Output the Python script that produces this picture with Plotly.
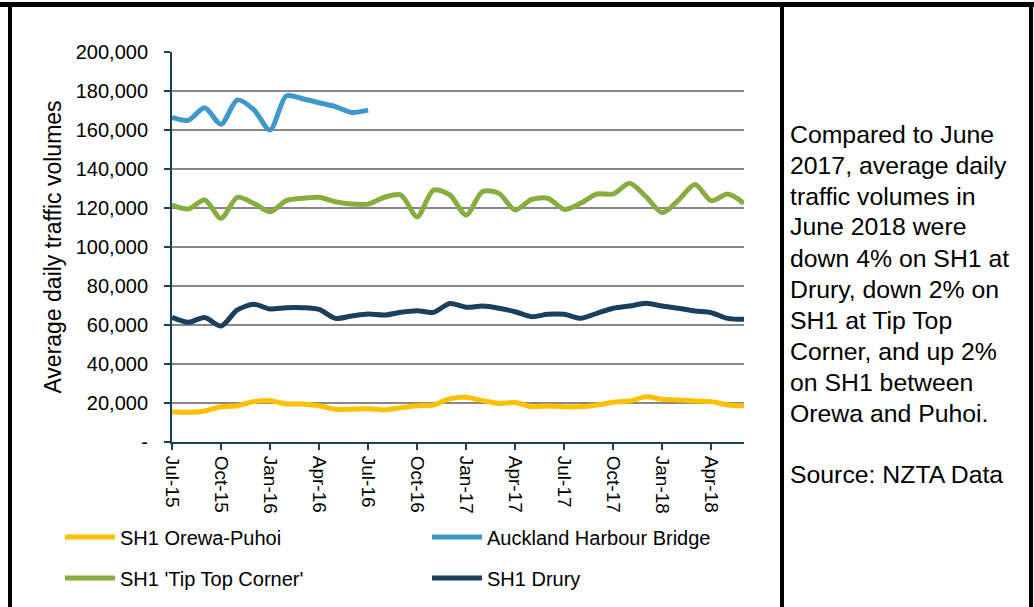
import plotly.graph_objects as go

# ---------------- data ----------------
months = ["Jul-15", "Aug-15", "Sep-15", "Oct-15", "Nov-15", "Dec-15",
          "Jan-16", "Feb-16", "Mar-16", "Apr-16", "May-16", "Jun-16",
          "Jul-16", "Aug-16", "Sep-16", "Oct-16", "Nov-16", "Dec-16",
          "Jan-17", "Feb-17", "Mar-17", "Apr-17", "May-17", "Jun-17",
          "Jul-17", "Aug-17", "Sep-17", "Oct-17", "Nov-17", "Dec-17",
          "Jan-18", "Feb-18", "Mar-18", "Apr-18", "May-18", "Jun-18"]

x_tick_labels = ["Jul-15", "Oct-15", "Jan-16", "Apr-16", "Jul-16", "Oct-16",
                 "Jan-17", "Apr-17", "Jul-17", "Oct-17", "Jan-18", "Apr-18"]

y_tick_values = [0, 20000, 40000, 60000, 80000, 100000, 120000, 140000, 160000, 180000, 200000]
y_tick_labels = ["-", "20,000", "40,000", "60,000", "80,000", "100,000", "120,000",
                 "140,000", "160,000", "180,000", "200,000"]

orewa_puhoi = [15500, 15200, 15900, 18100, 18600, 20700, 21200, 19500, 19500, 18600,
               16800, 16800, 17100, 16400, 17600, 18600, 19000, 22200, 22900, 21200,
               19800, 20200, 18100, 18500, 18100, 18100, 19000, 20400, 21000, 23200,
               21900, 21500, 21000, 20700, 19000, 18600]

harbour_bridge = [166500, 165000, 171400, 162900, 175400, 170500, 160000, 177500, 176000,
                  174000, 172000, 169000, 170200]

tip_top_corner = [121500, 119500, 124100, 114700, 125500, 122400, 118100, 123800, 125000,
                  125500, 123200, 122000, 122000, 125500, 126700, 115500, 129200, 126700,
                  116400, 128500, 127500, 119000, 124400, 125000, 119300, 122400, 127200,
                  127200, 132700, 125800, 117600, 124100, 132100, 123700, 127200, 122400]

drury = [63900, 61400, 63900, 59500, 67700, 70600, 68200, 68900, 68900, 68000,
         63400, 64600, 65600, 65100, 66500, 67300, 66500, 71000, 69100, 69700,
         68600, 66800, 64300, 65500, 65500, 63400, 66000, 68600, 69700, 71100,
         69700, 68600, 67200, 66300, 63400, 62900]

series_names = ["SH1 Orewa-Puhoi", "Auckland Harbour Bridge", "SH1 'Tip Top Corner'", "SH1 Drury"]
series_colors = ["#FFC000", "#3F97CA", "#88AC3F", "#1B3F5E"]

side_text = ["Compared to June", "2017, average daily", "traffic volumes in",
             "June 2018 were", "down 4% on SH1 at", "Drury, down 2% on",
             "SH1 at Tip Top", "Corner, and up 2%", "on SH1 between",
             "Orewa and Puhoi.", "", "Source: NZTA Data"]

# ---------------- layout helpers ----------------
W, H = 1034, 607
L, R, T, B = 172, 290, 52, 165
PW, PH = W - L - R, H - T - B


def px_x(p):
    return (p - L) / PW


def px_y(p):
    return (H - B - p) / PH


FONT = "Liberation Sans, Arial, sans-serif"

fig = go.Figure()
data_sets = [orewa_puhoi, harbour_bridge, tip_top_corner, drury]
legend_ids = ["legend", "legend2", "legend3", "legend4"]
# legend anchor positions (container pixels): (item left x, row centre y)
legend_pos = [(60, 537), (427, 537), (60, 578), (427, 578)]

for name, vals, col, lg in zip(series_names, data_sets, series_colors, legend_ids):
    fig.add_trace(go.Scatter(
        x=months[:len(vals)], y=vals, name=name, mode="lines",
        line=dict(color=col, width=5, shape="spline", smoothing=0.8),
        legend=lg, hoverinfo="skip"))

fig.update_xaxes(
    type="category", categoryorder="array", categoryarray=months,
    range=[0, len(months) - 1],
    tickmode="array", tickvals=x_tick_labels, ticktext=x_tick_labels,
    tickangle=90, ticks="outside", ticklen=6, tickwidth=2, tickcolor="#1B3F5E",
    ticklabelstandoff=2,
    showline=True, linecolor="#1B3F5E", linewidth=2,
    showgrid=False, zeroline=False, automargin=False,
    tickfont=dict(family=FONT, size=19, color="black"),
)
fig.update_yaxes(
    range=[0, 200000],
    tickmode="array", tickvals=y_tick_values, ticktext=y_tick_labels,
    ticks="outside", ticklen=6, tickwidth=2, tickcolor="#1B3F5E",
    ticklabelstandoff=12,
    showline=True, linecolor="#1B3F5E", linewidth=2,
    showgrid=True, gridcolor="#878787", gridwidth=2, zeroline=False,
    automargin=False,
    tickfont=dict(family=FONT, size=20, color="black"),
    title=dict(text="Average daily traffic volumes", standoff=8,
               font=dict(family=FONT, size=23, color="black")),
)

legend_layouts = {}
for lg, (lx, ly) in zip(legend_ids, legend_pos):
    legend_layouts[lg] = dict(
        orientation="h", xref="container", yref="container",
        x=lx / W, y=1 - ly / H, xanchor="left", yanchor="middle",
        itemwidth=50,
        font=dict(family=FONT, size=20, color="black"),
        bgcolor="rgba(0,0,0,0)", itemclick=False, itemdoubleclick=False)

shapes = []
black = "black"
# top bar
shapes.append(dict(type="rect", xref="paper", yref="paper",
                   x0=px_x(0), x1=px_x(W), y0=px_y(7), y1=px_y(2),
                   fillcolor=black, line=dict(width=0), layer="above"))
for xa, xb in [(8, 12), (780, 784), (1029, 1033)]:
    shapes.append(dict(type="rect", xref="paper", yref="paper",
                       x0=px_x(xa), x1=px_x(xb), y0=px_y(H), y1=px_y(2),
                       fillcolor=black, line=dict(width=0), layer="above"))

# side commentary, one annotation per line
annotations = []
first_line_y, line_step = 134, 31
for i, line in enumerate(side_text):
    if not line:
        continue
    annotations.append(dict(
        text=line, xref="paper", yref="paper",
        x=px_x(788), y=px_y(first_line_y + i * line_step),
        xanchor="left", yanchor="middle", align="left", showarrow=False,
        font=dict(family=FONT, size=24.8, color="black")))

fig.update_layout(
    width=W, height=H,
    margin=dict(l=L, r=R, t=T, b=B, pad=0, autoexpand=False),
    paper_bgcolor="white", plot_bgcolor="white",
    font=dict(family=FONT, color="black"),
    showlegend=True,
    shapes=shapes,
    annotations=annotations,
    **legend_layouts,
)

fig.write_html("out.html", config={"displayModeBar": False},
               post_script="document.body.style.margin='0px';document.body.style.overflow='hidden';")
